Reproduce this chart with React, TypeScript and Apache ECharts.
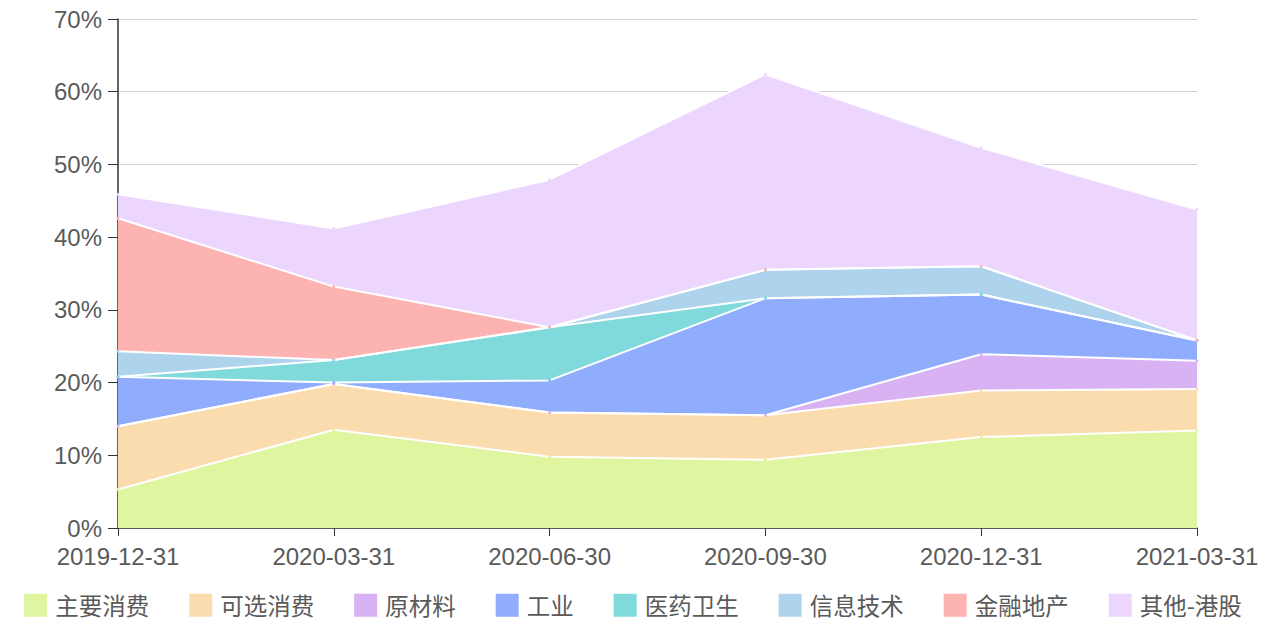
import React, { useEffect, useRef } from "react";
import * as echarts from "echarts";

const dates = ["2019-12-31", "2020-03-31", "2020-06-30", "2020-09-30", "2020-12-31", "2021-03-31"];
const seriesNames = ["主要消费", "可选消费", "原材料", "工业", "医药卫生", "信息技术", "金融地产", "其他-港股"];
const stapleConsumer = [5.3, 13.5, 9.8, 9.4, 12.5, 13.4];
const discretionary = [8.7, 6.3, 6.1, 6.1, 6.4, 5.7];
const materials = [0, 0, 0, 0, 5.0, 3.9];
const industrials = [6.8, 0.2, 4.4, 16.1, 8.2, 2.8];
const healthcare = [0, 3.1, 7.3, 0, 0, 0];
const infoTech = [3.5, 0, 0, 3.9, 3.9, 0];
const financeRealEstate = [18.3, 10.1, 0, 0, 0, 0];
const otherHK = [3.3, 8.0, 20.3, 26.9, 16.3, 18.0];
const yTicks = [0, 10, 20, 30, 40, 50, 60, 70];
const colors = ["#e0f5a0", "#fbdcae", "#d8b2f2", "#8fadfc", "#80d9db", "#aed4ed", "#fdb3b1", "#ecd6fd"];

const seriesData = [stapleConsumer, discretionary, materials, industrials, healthcare, infoTech, financeRealEstate, otherHK];

export default function App() {
  const ref = useRef<HTMLDivElement>(null);
  useEffect(() => {
    if (!ref.current) return;
    const chart = echarts.init(ref.current, undefined, { renderer: "svg" });
    const font = "'Noto Sans CJK SC', 'Noto Sans', sans-serif";
    const axisFont = "'Liberation Sans', Arial, sans-serif";
    chart.setOption({
      animation: false,
      color: colors,
      grid: { left: 118, right: 69, top: 19, bottom: 99, containLabel: false },
      legend: {
        bottom: 5,
        left: "center",
        itemWidth: 23,
        itemHeight: 23,
        itemGap: 40,
        icon: "rect",
        textStyle: { fontSize: 23.5, color: "#5a5a5a", fontFamily: font, padding: [0, 0, 0, 3] },
        data: seriesNames,
      },
      xAxis: {
        type: "category",
        data: dates,
        boundaryGap: false,
        axisLine: { lineStyle: { color: "#333", width: 1.5 } },
        axisTick: { show: true, length: 8, lineStyle: { color: "#333" } },
        axisLabel: { fontSize: 24, color: "#5a5a5a", margin: 16, fontFamily: axisFont },
      },
      yAxis: {
        type: "value",
        min: yTicks[0],
        max: yTicks[yTicks.length - 1],
        interval: 10,
        axisLine: { show: true, lineStyle: { color: "#333", width: 1.5 } },
        axisTick: { show: true, length: 10, lineStyle: { color: "#333" } },
        axisLabel: { fontSize: 24, color: "#5a5a5a", margin: 16, formatter: "{value}%", fontFamily: axisFont },
        splitLine: { show: true, lineStyle: { color: "#d0d0d0", width: 1 } },
      },
      series: seriesNames.map((name, i) => ({
        name,
        type: "line",
        stack: "total",
        data: seriesData[i],
        symbol: "circle",
        symbolSize: 3,
        showSymbol: true,
        itemStyle: { color: colors[i] },
        lineStyle: { color: "#ffffff", width: 2 },
        areaStyle: { color: colors[i], opacity: 1 },
      })),
    });
    return () => chart.dispose();
  }, []);
  return <div ref={ref} style={{ position: "absolute", left: 0, top: 0, width: 1266, height: 627 }} />;
}
